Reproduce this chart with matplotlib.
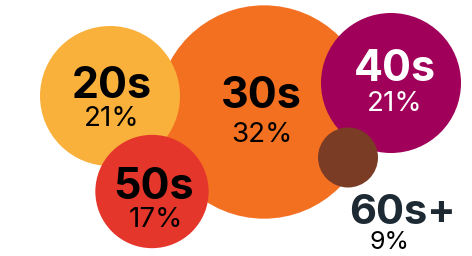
import matplotlib
matplotlib.use("Agg")
import matplotlib.pyplot as plt
from matplotlib.patches import Circle

categories = ["30s", "20s", "40s", "50s", "60s+"]
values = [32, 21, 21, 17, 9]
value_labels = ["32%", "21%", "21%", "17%", "9%"]

# layout (pixel coordinates of bubble centres), styles
centers = [(264, 112), (110, 96), (391, 83), (152, 191.5), (348, 157.5)]
px_per_unit = 70 / 21
colors = ["#F37021", "#F9B13B", "#A0005A", "#E5362B", "#7B3C26"]
label_color = ["#000000", "#000000", "#FFFFFF", "#000000", "#1E2A33"]
pct_color = ["#000000", "#000000", "#FFFFFF", "#000000", "#000000"]
label_pos = [(261.5, 108), (111.5, 98), (395, 81), (154, 199), (402, 224)]
pct_pos = [(261.5, 142), (112, 126), (394.5, 111), (155.5, 227), (389, 249)]
label_size = [31, 31, 31, 31, 30]
pct_size = [20, 20, 20, 20, 18]
FONT = "Inter"

fig = plt.figure(figsize=(4.72, 2.56), dpi=100)
ax = fig.add_axes([0, 0, 1, 1])
ax.set_xlim(0, 472)
ax.set_ylim(256, 0)
ax.set_aspect("equal")
ax.axis("off")

for i, (cat, v) in enumerate(zip(categories, values)):
    ax.add_patch(Circle(centers[i], v * px_per_unit, color=colors[i], lw=0, zorder=i + 1))
for i, cat in enumerate(categories):
    ax.text(*label_pos[i], cat, ha="center", va="baseline", fontsize=label_size[i],
            fontweight="bold", family=FONT, color=label_color[i], zorder=10)
    ax.text(*pct_pos[i], value_labels[i], ha="center", va="baseline", fontsize=pct_size[i],
            family=FONT, color=pct_color[i], zorder=10)

fig.savefig("out.png", dpi=100)
